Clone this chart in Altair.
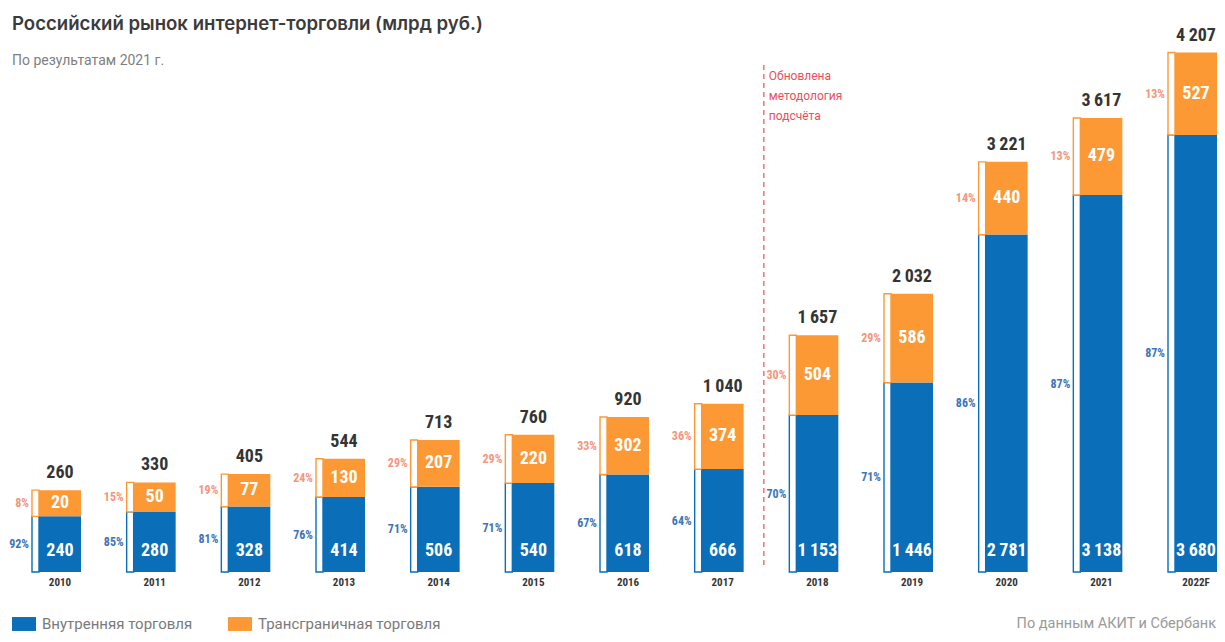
import altair as alt
import pandas as pd

years = ["2010", "2011", "2012", "2013", "2014", "2015", "2016", "2017", "2018", "2019", "2020", "2021", "2022F"]
domestic = [240, 280, 328, 414, 506, 540, 618, 666, 1153, 1446, 2781, 3138, 3680]
crossborder = [20, 50, 77, 130, 207, 220, 302, 374, 504, 586, 440, 479, 527]
totals = [260, 330, 405, 544, 713, 760, 920, 1040, 1657, 2032, 3221, 3617, 4207]
domestic_pct = [92, 85, 81, 76, 71, 71, 67, 64, 70, 71, 86, 87, 87]
cross_pct = [8, 15, 19, 24, 29, 29, 33, 36, 30, 29, 14, 13, 13]

series_names = ["Внутренняя торговля", "Трансграничная торговля"]
TITLE = "Российский рынок интернет-торговли (млрд руб.)"
SUBTITLE = "По результатам 2021 г."
NOTE = ["Обновлена", "методология", "подсчёта"]
SOURCE = "По данным АКИТ и Сбербанк"

BLUE = "#0A6EB8"
ORANGE = "#FC9935"
BLUE_TXT = "#3D74B9"
ORANGE_TXT = "#F5957A"
RED = "#E9505A"
DARK = "#343434"
NUM_FONT = "Liberation Sans Narrow, Roboto Condensed, DejaVu Sans Condensed, sans-serif"

# visual minimum thickness of each segment, expressed in scale units
PAD_B = 262
PAD_O = 216


def fmt(v):
    return f"{v:,}".replace(",", "\u2009")


df = pd.DataFrame({
    "year": years,
    "dom": domestic,
    "cross": crossborder,
    "total": totals,
    "dom_lbl": [fmt(v) for v in domestic],
    "cross_lbl": [fmt(v) for v in crossborder],
    "total_lbl": [fmt(v) for v in totals],
    "dom_pct": [f"{p}%" for p in domestic_pct],
    "cross_pct": [f"{p}%" for p in cross_pct],
})

W, H = 1209, 530
STEP_INNER = 1 - 42 / 94.69
xscale = alt.Scale(domain=years, range=[31, W], paddingInner=STEP_INNER, paddingOuter=0, round=False)
yscale = alt.Scale(domain=[0, 4780], nice=False, zero=True)

xenc = alt.X("year:N", sort=years, scale=xscale,
             axis=alt.Axis(title=None, labelAngle=0, domain=False, ticks=False,
                           labelFont=NUM_FONT, labelFontSize=11, labelFontWeight="bold",
                           labelColor=DARK, labelPadding=4))

base = alt.Chart(df).transform_calculate(
    b_top=f"datum.dom + {PAD_B}",
    o_top=f"datum.dom + {PAD_B} + datum.cross + {PAD_O}",
    b_mid=f"(datum.dom + {PAD_B}) / 2",
    o_mid=f"datum.dom + {PAD_B} + (datum.cross + {PAD_O}) / 2",
    zero="0",
    t_dom=f"'{series_names[0]}'",
    t_cross=f"'{series_names[1]}'",
)

color_scale = alt.Scale(domain=series_names, range=[BLUE, ORANGE])

strip_b = base.mark_bar(width=7, xOffset=-24.5, fill="white", stroke=BLUE, strokeWidth=1.4).encode(
    x=xenc, y=alt.Y("b_top:Q", scale=yscale, axis=None), y2="zero:Q")
strip_o = base.mark_bar(width=7, xOffset=-24.5, fill="white", stroke=ORANGE, strokeWidth=1.4).encode(
    x=xenc, y=alt.Y("o_top:Q", scale=yscale, axis=None), y2="b_top:Q")

bar_b = base.mark_bar().encode(
    x=xenc, y=alt.Y("b_top:Q", scale=yscale, axis=None), y2="zero:Q",
    color=alt.Color("t_dom:N", scale=color_scale, title=None))
bar_o = base.mark_bar().encode(
    x=xenc, y=alt.Y("o_top:Q", scale=yscale, axis=None), y2="b_top:Q",
    color=alt.Color("t_cross:N", scale=color_scale, title=None))

lbl_tot = base.mark_text(font=NUM_FONT, fontSize=18, fontWeight="bold", color=DARK,
                         baseline="alphabetic", dy=-12).encode(
    x=xenc, y=alt.Y("o_top:Q", scale=yscale, axis=None), text="total_lbl:N")
lbl_o = base.mark_text(font=NUM_FONT, fontSize=18, fontWeight="bold", color="white",
                       baseline="middle").encode(
    x=xenc, y=alt.Y("o_mid:Q", scale=yscale, axis=None), text="cross_lbl:N")
lbl_b = base.mark_text(font=NUM_FONT, fontSize=18, fontWeight="bold", color="white",
                       baseline="alphabetic", dy=-16).encode(
    x=xenc, y=alt.Y("zero:Q", scale=yscale, axis=None), text="dom_lbl:N")
pct_o = base.mark_text(font=NUM_FONT, fontSize=12, fontWeight="bold", color=ORANGE_TXT,
                       baseline="middle", align="right", xOffset=-31).encode(
    x=xenc, y=alt.Y("o_mid:Q", scale=yscale, axis=None), text="cross_pct:N")
pct_b = base.mark_text(font=NUM_FONT, fontSize=12, fontWeight="bold", color=BLUE_TXT,
                       baseline="middle", align="right", xOffset=-31).encode(
    x=xenc, y=alt.Y("b_mid:Q", scale=yscale, axis=None), text="dom_pct:N")

one = pd.DataFrame({"year": ["2018"], "note": [NOTE], "src": [SOURCE]})
rule = alt.Chart(one).mark_rule(color=RED, strokeDash=[5, 4], strokeWidth=1.2, xOffset=-53.5).encode(
    x=xenc, y=alt.value(23), y2=alt.value(523))
note = alt.Chart(one).mark_text(font="Roboto", fontSize=12, color=RED, align="left",
                                baseline="alphabetic", lineHeight=20, xOffset=-48.5).encode(
    x=xenc, y=alt.value(38), text="note")
src = alt.Chart(one).mark_text(font="Roboto", fontSize=14.5, color="#9a9a9a", align="right",
                               baseline="middle").encode(
    x=alt.value(W - 1), y=alt.value(582), text="src:N")

chart = alt.layer(strip_b, strip_o, bar_b, bar_o, lbl_tot, lbl_o, lbl_b, pct_o, pct_b, rule, note, src).properties(
    width=W, height=H,
    autosize=alt.AutoSizeParams(type="none"),
    padding={"left": 0, "top": 34, "right": 0, "bottom": 62},
    title=alt.TitleParams(text=TITLE, subtitle=SUBTITLE, anchor="start", frame="group",
                          font="Inter", fontSize=18.6, fontWeight=600, color="#3b3b3b",
                          subtitleFont="Roboto", subtitleFontSize=14, subtitleColor="#808080",
                          subtitlePadding=20, offset=0, dx=4, dy=41),
).configure_view(stroke=None).configure_legend(
    orient="none", legendX=4, legendY=570, direction="horizontal",
    symbolType="M-1,-0.58H1V0.58H-1Z", symbolSize=576, symbolStrokeWidth=0, symbolOpacity=1,
    labelFont="Roboto", labelFontSize=15, labelColor="#7a7a7a", labelOffset=6, labelLimit=400,
    columnPadding=35, padding=0, title=None,
)

chart.save("out.html", embed_options={"renderer": "svg", "actions": False})
